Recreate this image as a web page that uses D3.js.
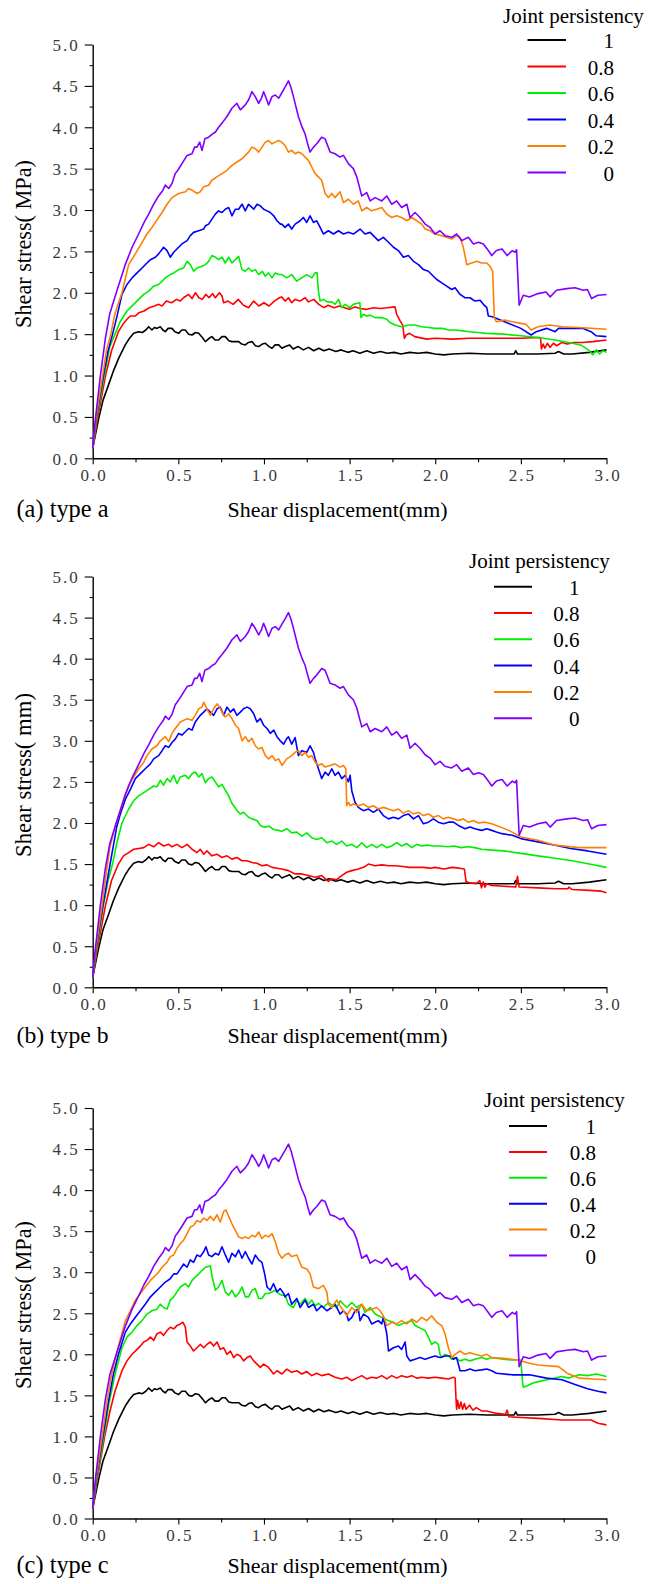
<!DOCTYPE html>
<html>
<head>
<meta charset="utf-8">
<script src="https://cdn.jsdelivr.net/npm/d3@7"></script>
<style>
  html, body { margin: 0; padding: 0; background: #fff; }
  svg { display: block; }
  svg text { font-family: "Liberation Serif", "Times New Roman", Times, "DejaVu Serif", serif !important; }
</style>
</head>
<body>
<svg id="chart" width="649" height="1584" font-family="Liberation Serif, Times New Roman, serif"></svg>
<script>
// Legend categories (joint persistency) and their line colours
const persistency = ["1", "0.8", "0.6", "0.4", "0.2", "0"];
const lineColors = ["#000000", "#ff0000", "#00ee00", "#0000ff", "#ff8000", "#8000ff"];

// Axis ticks
const xTickValues = [0, 0.5, 1.0, 1.5, 2.0, 2.5, 3.0];
const yTickValues = [0, 0.5, 1.0, 1.5, 2.0, 2.5, 3.0, 3.5, 4.0, 4.5, 5.0];
const xMinorValues = [0.25, 0.75, 1.25, 1.75, 2.25, 2.75];
const yMinorValues = [0.25, 0.75, 1.25, 1.75, 2.25, 2.75, 3.25, 3.75, 4.25, 4.75];

// Shear stress (MPa) vs shear displacement (mm): [displacement, stress]
// Persistency 1 and 0 are common to all three joint types
const stressP1 = [[0,0.12],[0.035,0.48],[0.06,0.7],[0.093,0.89],[0.12,1.05],[0.152,1.21],[0.19,1.37],[0.215,1.45],[0.239,1.51],[0.268,1.53],[0.29,1.52],[0.31,1.55],[0.327,1.59],[0.346,1.55],[0.36,1.58],[0.375,1.57],[0.395,1.59],[0.41,1.55],[0.424,1.53],[0.44,1.57],[0.463,1.57],[0.48,1.53],[0.502,1.51],[0.52,1.55],[0.541,1.55],[0.56,1.5],[0.58,1.49],[0.6,1.52],[0.619,1.51],[0.64,1.46],[0.658,1.41],[0.68,1.45],[0.696,1.47],[0.715,1.43],[0.735,1.43],[0.755,1.47],[0.774,1.47],[0.795,1.42],[0.813,1.41],[0.835,1.41],[0.852,1.41],[0.87,1.38],[0.891,1.37],[0.91,1.4],[0.93,1.41],[0.95,1.36],[0.969,1.35],[0.99,1.38],[1.008,1.39],[1.03,1.35],[1.047,1.33],[1.065,1.37],[1.086,1.37],[1.105,1.33],[1.125,1.35],[1.15,1.37],[1.17,1.32],[1.2,1.35],[1.23,1.31],[1.26,1.34],[1.29,1.3],[1.32,1.33],[1.35,1.3],[1.38,1.32],[1.42,1.29],[1.45,1.31],[1.49,1.28],[1.52,1.3],[1.56,1.27],[1.6,1.3],[1.64,1.27],[1.68,1.29],[1.72,1.27],[1.76,1.28],[1.8,1.26],[1.85,1.28],[1.9,1.27],[1.95,1.28],[2.0,1.26],[2.05,1.25],[2.1,1.26],[2.2,1.27],[2.3,1.26],[2.4,1.26],[2.46,1.26],[2.47,1.3],[2.48,1.26],[2.6,1.26],[2.7,1.27],[2.72,1.29],[2.75,1.26],[2.8,1.26],[2.9,1.28],[3.0,1.31]];

const stressP0 = [[0,0.12],[0.016,0.48],[0.045,1.0],[0.074,1.45],[0.1,1.75],[0.145,2.05],[0.19,2.34],[0.23,2.55],[0.268,2.71],[0.3,2.85],[0.327,2.95],[0.356,3.07],[0.385,3.17],[0.41,3.24],[0.424,3.3],[0.444,3.26],[0.463,3.32],[0.482,3.44],[0.5,3.49],[0.521,3.56],[0.551,3.66],[0.58,3.68],[0.595,3.76],[0.609,3.76],[0.625,3.82],[0.638,3.72],[0.655,3.86],[0.677,3.88],[0.7,3.92],[0.716,3.94],[0.735,4.0],[0.755,4.05],[0.784,4.13],[0.813,4.23],[0.842,4.29],[0.862,4.21],[0.891,4.27],[0.91,4.33],[0.93,4.43],[0.949,4.37],[0.969,4.29],[0.985,4.35],[0.998,4.43],[1.013,4.35],[1.027,4.27],[1.047,4.37],[1.066,4.39],[1.086,4.35],[1.105,4.42],[1.125,4.49],[1.143,4.56],[1.158,4.48],[1.172,4.37],[1.201,4.13],[1.221,4.01],[1.24,3.92],[1.255,3.8],[1.269,3.7],[1.289,3.76],[1.308,3.8],[1.337,3.88],[1.357,3.86],[1.386,3.7],[1.415,3.68],[1.444,3.64],[1.464,3.66],[1.493,3.56],[1.522,3.5],[1.542,3.4],[1.571,3.17],[1.6,3.21],[1.62,3.11],[1.649,3.15],[1.688,3.11],[1.717,3.17],[1.746,3.07],[1.775,3.11],[1.804,3.03],[1.834,3.07],[1.853,2.91],[1.882,2.97],[1.911,2.91],[1.941,2.83],[1.97,2.79],[1.999,2.71],[2.028,2.75],[2.057,2.69],[2.096,2.67],[2.125,2.71],[2.155,2.63],[2.193,2.67],[2.223,2.59],[2.252,2.61],[2.281,2.59],[2.31,2.51],[2.33,2.45],[2.357,2.51],[2.39,2.53],[2.42,2.45],[2.45,2.51],[2.466,2.49],[2.475,2.52],[2.49,1.85],[2.5,1.9],[2.514,1.97],[2.55,1.95],[2.6,1.99],[2.647,2.01],[2.671,1.95],[2.708,2.03],[2.768,2.05],[2.816,2.06],[2.865,2.03],[2.889,2.04],[2.913,1.93],[2.949,1.97],[3.0,1.98]];

// Type a
const typeA08 = [[0,0.12],[0.03,0.5],[0.075,1.0],[0.11,1.3],[0.15,1.53],[0.18,1.63],[0.2,1.68],[0.22,1.72],[0.25,1.72],[0.27,1.76],[0.3,1.78],[0.33,1.82],[0.36,1.84],[0.385,1.86],[0.405,1.84],[0.43,1.9],[0.46,1.88],[0.49,1.92],[0.51,1.9],[0.53,1.94],[0.56,1.98],[0.58,1.93],[0.6,2.0],[0.62,1.94],[0.64,1.92],[0.66,1.98],[0.68,1.94],[0.7,1.99],[0.716,1.94],[0.74,2.0],[0.755,1.96],[0.765,1.88],[0.79,1.9],[0.82,1.86],[0.85,1.92],[0.88,1.85],[0.91,1.82],[0.94,1.9],[0.97,1.84],[1.0,1.88],[1.03,1.84],[1.06,1.9],[1.09,1.94],[1.104,1.95],[1.123,1.9],[1.143,1.94],[1.162,1.88],[1.182,1.92],[1.21,1.9],[1.24,1.94],[1.26,1.89],[1.29,1.92],[1.32,1.86],[1.35,1.82],[1.375,1.85],[1.41,1.82],[1.44,1.84],[1.47,1.82],[1.5,1.8],[1.53,1.83],[1.56,1.81],[1.6,1.8],[1.64,1.82],[1.68,1.81],[1.72,1.82],[1.765,1.83],[1.775,1.74],[1.795,1.66],[1.81,1.61],[1.82,1.45],[1.83,1.49],[1.85,1.51],[1.88,1.47],[1.95,1.44],[2.0,1.45],[2.1,1.44],[2.2,1.45],[2.3,1.45],[2.4,1.45],[2.5,1.45],[2.6,1.46],[2.615,1.45],[2.62,1.32],[2.63,1.38],[2.64,1.33],[2.655,1.39],[2.67,1.34],[2.69,1.39],[2.71,1.36],[2.74,1.4],[2.77,1.38],[2.81,1.4],[2.86,1.4],[2.92,1.41],[3.0,1.43]];

const typeA06 = [[0,0.12],[0.025,0.5],[0.068,1.0],[0.1,1.35],[0.13,1.5],[0.16,1.65],[0.2,1.78],[0.239,1.86],[0.268,1.92],[0.298,1.98],[0.327,2.02],[0.356,2.08],[0.385,2.1],[0.405,2.14],[0.424,2.18],[0.453,2.22],[0.473,2.24],[0.502,2.28],[0.531,2.3],[0.551,2.38],[0.57,2.34],[0.59,2.26],[0.609,2.3],[0.638,2.32],[0.658,2.34],[0.677,2.38],[0.696,2.45],[0.716,2.43],[0.735,2.4],[0.755,2.43],[0.774,2.36],[0.794,2.43],[0.813,2.36],[0.833,2.4],[0.852,2.44],[0.872,2.28],[0.891,2.26],[0.91,2.3],[0.93,2.26],[0.95,2.28],[0.969,2.22],[0.99,2.26],[1.008,2.2],[1.027,2.24],[1.047,2.18],[1.066,2.24],[1.086,2.22],[1.104,2.22],[1.133,2.18],[1.162,2.22],[1.191,2.14],[1.22,2.18],[1.25,2.22],[1.28,2.18],[1.298,2.24],[1.31,2.24],[1.318,2.02],[1.328,1.9],[1.347,1.92],[1.37,1.89],[1.396,1.89],[1.415,1.86],[1.435,1.92],[1.454,1.82],[1.474,1.86],[1.5,1.82],[1.522,1.86],[1.54,1.87],[1.56,1.88],[1.567,1.7],[1.58,1.74],[1.6,1.72],[1.62,1.73],[1.649,1.7],[1.688,1.7],[1.717,1.68],[1.736,1.64],[1.765,1.61],[1.804,1.59],[1.843,1.61],[1.882,1.61],[1.92,1.59],[1.96,1.58],[2.0,1.57],[2.04,1.57],[2.08,1.55],[2.12,1.55],[2.16,1.54],[2.2,1.53],[2.25,1.52],[2.3,1.51],[2.4,1.5],[2.5,1.48],[2.6,1.46],[2.7,1.43],[2.8,1.39],[2.85,1.37],[2.9,1.3],[2.92,1.25],[2.94,1.31],[2.96,1.26],[2.98,1.3],[3.0,1.28]];

const typeA04 = [[0,0.12],[0.022,0.5],[0.063,1.0],[0.09,1.3],[0.116,1.5],[0.14,1.7],[0.171,1.98],[0.2,2.1],[0.23,2.18],[0.259,2.24],[0.288,2.3],[0.317,2.36],[0.337,2.4],[0.366,2.43],[0.385,2.47],[0.414,2.55],[0.434,2.51],[0.453,2.43],[0.473,2.49],[0.502,2.55],[0.521,2.59],[0.551,2.63],[0.57,2.69],[0.589,2.73],[0.619,2.75],[0.648,2.77],[0.658,2.81],[0.677,2.83],[0.696,2.89],[0.716,2.95],[0.735,2.99],[0.755,2.97],[0.774,3.01],[0.794,3.03],[0.813,2.93],[0.833,3.01],[0.852,3.01],[0.872,3.07],[0.891,2.99],[0.91,3.07],[0.94,3.01],[0.96,3.07],[0.979,3.05],[0.998,3.01],[1.018,2.99],[1.037,2.97],[1.057,2.93],[1.076,2.87],[1.096,2.83],[1.104,2.83],[1.123,2.79],[1.143,2.83],[1.162,2.77],[1.182,2.83],[1.211,2.87],[1.23,2.91],[1.25,2.85],[1.269,2.93],[1.289,2.85],[1.308,2.87],[1.328,2.79],[1.347,2.71],[1.376,2.75],[1.406,2.71],[1.435,2.75],[1.464,2.71],[1.493,2.73],[1.522,2.71],[1.561,2.77],[1.59,2.71],[1.62,2.73],[1.649,2.67],[1.668,2.63],[1.697,2.67],[1.727,2.61],[1.756,2.55],[1.785,2.51],[1.814,2.43],[1.843,2.45],[1.873,2.38],[1.902,2.34],[1.931,2.28],[1.96,2.26],[1.989,2.2],[2.009,2.16],[2.038,2.12],[2.067,2.08],[2.096,2.04],[2.116,2.06],[2.145,1.98],[2.174,1.94],[2.203,1.94],[2.232,1.9],[2.262,1.91],[2.281,1.86],[2.301,1.82],[2.31,1.72],[2.333,1.71],[2.38,1.67],[2.43,1.63],[2.5,1.57],[2.56,1.49],[2.59,1.53],[2.65,1.57],[2.7,1.53],[2.72,1.57],[2.79,1.57],[2.86,1.57],[2.91,1.53],[2.94,1.48],[3.0,1.47]];

const typeA02 = [[0,0.12],[0.02,0.5],[0.058,1.0],[0.08,1.3],[0.106,1.5],[0.13,1.75],[0.171,2.0],[0.21,2.34],[0.249,2.47],[0.288,2.61],[0.317,2.71],[0.346,2.79],[0.385,2.91],[0.405,2.97],[0.434,3.07],[0.463,3.15],[0.502,3.2],[0.541,3.22],[0.56,3.26],[0.58,3.24],[0.609,3.2],[0.628,3.22],[0.648,3.28],[0.677,3.3],[0.696,3.36],[0.725,3.4],[0.755,3.44],[0.784,3.48],[0.813,3.54],[0.842,3.58],[0.872,3.62],[0.891,3.66],[0.91,3.7],[0.93,3.76],[0.95,3.74],[0.969,3.7],[0.988,3.76],[1.008,3.82],[1.027,3.84],[1.047,3.8],[1.066,3.82],[1.086,3.84],[1.104,3.82],[1.123,3.78],[1.143,3.7],[1.162,3.72],[1.182,3.68],[1.201,3.7],[1.221,3.68],[1.24,3.64],[1.26,3.6],[1.279,3.52],[1.299,3.44],[1.318,3.4],[1.337,3.36],[1.357,3.2],[1.376,3.15],[1.396,3.2],[1.415,3.15],[1.444,3.22],[1.464,3.09],[1.493,3.13],[1.522,3.07],[1.551,3.11],[1.571,2.99],[1.6,3.03],[1.629,2.99],[1.658,3.01],[1.688,3.03],[1.717,2.95],[1.746,2.91],[1.775,2.93],[1.804,2.91],[1.834,2.87],[1.863,2.91],[1.892,2.87],[1.921,2.83],[1.941,2.77],[1.97,2.75],[1.999,2.71],[2.038,2.69],[2.067,2.67],[2.096,2.65],[2.125,2.69],[2.145,2.67],[2.164,2.55],[2.184,2.34],[2.213,2.36],[2.242,2.38],[2.271,2.36],[2.3,2.36],[2.32,2.32],[2.335,2.26],[2.345,1.7],[2.357,1.65],[2.406,1.67],[2.45,1.65],[2.5,1.63],[2.53,1.62],[2.56,1.55],[2.6,1.59],[2.67,1.61],[2.74,1.59],[2.84,1.58],[3.0,1.56]];

// Type b
const typeB08 = [[0,0.12],[0.03,0.5],[0.075,1.0],[0.11,1.3],[0.15,1.5],[0.18,1.6],[0.21,1.64],[0.239,1.68],[0.268,1.69],[0.298,1.7],[0.327,1.74],[0.356,1.71],[0.385,1.76],[0.414,1.72],[0.444,1.74],[0.463,1.71],[0.492,1.74],[0.521,1.7],[0.551,1.74],[0.58,1.68],[0.609,1.64],[0.628,1.68],[0.648,1.62],[0.667,1.66],[0.696,1.6],[0.725,1.62],[0.755,1.58],[0.784,1.6],[0.813,1.56],[0.842,1.58],[0.872,1.54],[0.901,1.54],[0.93,1.52],[0.959,1.51],[0.988,1.48],[1.018,1.49],[1.047,1.46],[1.076,1.45],[1.104,1.44],[1.143,1.42],[1.182,1.38],[1.221,1.38],[1.26,1.36],[1.299,1.34],[1.337,1.36],[1.376,1.29],[1.396,1.32],[1.425,1.31],[1.454,1.36],[1.483,1.4],[1.513,1.42],[1.551,1.44],[1.581,1.46],[1.61,1.5],[1.649,1.48],[1.688,1.49],[1.73,1.48],[1.77,1.48],[1.81,1.47],[1.85,1.46],[1.89,1.46],[1.93,1.46],[1.97,1.45],[2.0,1.46],[2.05,1.44],[2.1,1.46],[2.14,1.45],[2.17,1.44],[2.18,1.29],[2.2,1.27],[2.24,1.26],[2.26,1.3],[2.27,1.21],[2.28,1.28],[2.29,1.22],[2.3,1.26],[2.33,1.24],[2.4,1.23],[2.47,1.22],[2.48,1.35],[2.49,1.22],[2.6,1.21],[2.7,1.2],[2.775,1.2],[2.78,1.22],[2.8,1.19],[2.9,1.18],[2.97,1.17],[3.0,1.15]];

const typeB06 = [[0,0.12],[0.025,0.5],[0.063,1.0],[0.09,1.3],[0.116,1.5],[0.14,1.75],[0.171,2.0],[0.21,2.17],[0.239,2.27],[0.268,2.33],[0.298,2.37],[0.327,2.41],[0.356,2.45],[0.375,2.44],[0.395,2.52],[0.414,2.46],[0.434,2.54],[0.453,2.5],[0.473,2.58],[0.492,2.48],[0.512,2.56],[0.541,2.58],[0.56,2.54],[0.58,2.6],[0.599,2.62],[0.619,2.56],[0.638,2.6],[0.658,2.49],[0.677,2.54],[0.696,2.56],[0.716,2.5],[0.735,2.44],[0.755,2.47],[0.774,2.4],[0.794,2.33],[0.81,2.25],[0.823,2.21],[0.843,2.15],[0.862,2.11],[0.881,2.13],[0.91,2.07],[0.93,2.05],[0.959,2.03],[0.979,1.97],[1.0,1.95],[1.03,1.96],[1.057,1.92],[1.086,1.91],[1.104,1.9],[1.133,1.93],[1.162,1.88],[1.191,1.89],[1.221,1.84],[1.25,1.88],[1.279,1.82],[1.308,1.8],[1.337,1.82],[1.367,1.76],[1.396,1.78],[1.425,1.74],[1.454,1.78],[1.483,1.72],[1.513,1.74],[1.542,1.7],[1.571,1.76],[1.6,1.7],[1.629,1.74],[1.658,1.7],[1.688,1.74],[1.717,1.7],[1.746,1.72],[1.775,1.76],[1.804,1.72],[1.834,1.75],[1.863,1.7],[1.892,1.74],[1.921,1.72],[1.95,1.73],[1.99,1.72],[2.03,1.72],[2.07,1.71],[2.11,1.72],[2.15,1.7],[2.19,1.71],[2.23,1.7],[2.27,1.68],[2.33,1.67],[2.4,1.66],[2.5,1.63],[2.6,1.6],[2.7,1.57],[2.8,1.54],[2.9,1.5],[3.0,1.46]];

const typeB04 = [[0,0.12],[0.022,0.5],[0.06,1.0],[0.085,1.3],[0.11,1.6],[0.14,1.95],[0.16,2.1],[0.191,2.29],[0.22,2.41],[0.249,2.54],[0.278,2.6],[0.307,2.66],[0.337,2.72],[0.356,2.78],[0.385,2.82],[0.405,2.88],[0.424,2.94],[0.444,2.92],[0.463,2.98],[0.482,3.02],[0.502,3.09],[0.521,3.07],[0.541,3.11],[0.56,3.15],[0.58,3.13],[0.599,3.23],[0.628,3.31],[0.648,3.35],[0.667,3.39],[0.687,3.35],[0.706,3.31],[0.726,3.39],[0.745,3.41],[0.765,3.31],[0.784,3.41],[0.804,3.35],[0.823,3.39],[0.842,3.31],[0.862,3.35],[0.881,3.39],[0.901,3.41],[0.92,3.39],[0.94,3.33],[0.959,3.23],[0.979,3.27],[0.998,3.19],[1.018,3.15],[1.037,3.09],[1.057,3.13],[1.076,3.05],[1.095,3.0],[1.115,2.96],[1.134,3.03],[1.143,3.05],[1.162,2.96],[1.182,3.04],[1.201,2.82],[1.221,2.88],[1.25,2.86],[1.269,2.94],[1.289,2.86],[1.299,2.78],[1.318,2.66],[1.337,2.54],[1.357,2.62],[1.376,2.58],[1.396,2.66],[1.415,2.58],[1.435,2.62],[1.454,2.54],[1.474,2.58],[1.493,2.5],[1.503,2.58],[1.513,2.39],[1.532,2.25],[1.551,2.19],[1.581,2.15],[1.61,2.17],[1.639,2.13],[1.668,2.17],[1.697,2.09],[1.727,2.05],[1.756,2.07],[1.785,2.05],[1.814,2.09],[1.843,2.11],[1.873,2.05],[1.902,2.09],[1.931,1.99],[1.96,2.01],[1.989,2.05],[2.018,2.01],[2.048,1.99],[2.077,2.01],[2.106,2.01],[2.135,1.97],[2.174,1.93],[2.203,1.95],[2.232,1.93],[2.271,1.91],[2.301,1.93],[2.33,1.91],[2.357,1.89],[2.39,1.87],[2.45,1.85],[2.5,1.81],[2.6,1.77],[2.7,1.73],[2.79,1.69],[2.89,1.66],[3.0,1.62]];

const typeB02 = [[0,0.12],[0.02,0.5],[0.055,1.0],[0.08,1.4],[0.1,1.7],[0.13,1.95],[0.16,2.15],[0.19,2.35],[0.21,2.46],[0.239,2.56],[0.268,2.66],[0.298,2.74],[0.317,2.82],[0.346,2.9],[0.375,2.94],[0.395,3.0],[0.424,3.05],[0.444,2.99],[0.463,3.09],[0.482,3.15],[0.512,3.23],[0.551,3.27],[0.58,3.25],[0.599,3.31],[0.619,3.39],[0.638,3.41],[0.648,3.47],[0.667,3.39],[0.687,3.31],[0.706,3.39],[0.726,3.45],[0.735,3.43],[0.755,3.35],[0.774,3.29],[0.794,3.33],[0.813,3.27],[0.833,3.19],[0.852,3.15],[0.872,3.0],[0.891,3.05],[0.91,2.99],[0.93,3.03],[0.949,2.94],[0.969,2.9],[0.988,2.92],[1.008,2.82],[1.027,2.78],[1.047,2.82],[1.066,2.76],[1.086,2.78],[1.105,2.7],[1.133,2.78],[1.162,2.82],[1.182,2.86],[1.201,2.88],[1.221,2.82],[1.24,2.86],[1.26,2.8],[1.279,2.82],[1.299,2.74],[1.318,2.7],[1.337,2.72],[1.357,2.68],[1.386,2.7],[1.415,2.72],[1.444,2.68],[1.464,2.7],[1.478,2.66],[1.483,2.21],[1.493,2.25],[1.503,2.21],[1.522,2.23],[1.551,2.21],[1.581,2.23],[1.61,2.19],[1.639,2.21],[1.668,2.17],[1.697,2.19],[1.727,2.17],[1.756,2.15],[1.785,2.17],[1.814,2.12],[1.843,2.15],[1.873,2.11],[1.902,2.13],[1.931,2.09],[1.96,2.11],[1.989,2.07],[2.018,2.09],[2.048,2.05],[2.077,2.07],[2.106,2.05],[2.135,2.03],[2.164,2.05],[2.193,2.01],[2.223,2.03],[2.252,2.0],[2.291,2.01],[2.33,1.99],[2.43,1.91],[2.5,1.83],[2.6,1.79],[2.7,1.73],[2.84,1.7],[3.0,1.7]];

// Type c
const typeC08 = [[0,0.12],[0.028,0.5],[0.07,1.0],[0.1,1.3],[0.13,1.55],[0.171,1.8],[0.2,1.92],[0.23,2.0],[0.259,2.06],[0.278,2.1],[0.298,2.15],[0.317,2.17],[0.337,2.21],[0.356,2.17],[0.375,2.25],[0.395,2.27],[0.414,2.23],[0.434,2.29],[0.453,2.33],[0.473,2.31],[0.492,2.35],[0.512,2.37],[0.527,2.39],[0.541,2.33],[0.551,2.15],[0.57,2.1],[0.589,2.04],[0.609,2.08],[0.628,2.12],[0.648,2.08],[0.667,2.12],[0.687,2.15],[0.706,2.1],[0.726,2.15],[0.745,2.06],[0.765,2.08],[0.784,2.0],[0.804,2.04],[0.823,1.96],[0.842,2.0],[0.862,1.98],[0.881,1.92],[0.901,1.96],[0.92,1.98],[0.94,1.92],[0.959,1.88],[0.979,1.84],[0.998,1.88],[1.027,1.84],[1.056,1.76],[1.076,1.8],[1.105,1.76],[1.133,1.82],[1.162,1.78],[1.192,1.8],[1.221,1.76],[1.25,1.79],[1.279,1.74],[1.308,1.77],[1.337,1.74],[1.376,1.76],[1.415,1.72],[1.454,1.7],[1.483,1.72],[1.513,1.68],[1.542,1.71],[1.571,1.74],[1.6,1.7],[1.629,1.72],[1.658,1.71],[1.688,1.74],[1.717,1.7],[1.746,1.74],[1.775,1.71],[1.804,1.74],[1.834,1.72],[1.863,1.74],[1.892,1.71],[1.921,1.72],[1.96,1.71],[1.999,1.72],[2.038,1.71],[2.077,1.7],[2.106,1.72],[2.116,1.71],[2.121,1.47],[2.125,1.33],[2.13,1.44],[2.14,1.34],[2.15,1.42],[2.16,1.33],[2.17,1.4],[2.18,1.33],[2.2,1.38],[2.22,1.32],[2.24,1.35],[2.27,1.31],[2.3,1.31],[2.36,1.28],[2.41,1.27],[2.42,1.32],[2.43,1.24],[2.5,1.23],[2.6,1.22],[2.74,1.2],[2.85,1.2],[2.91,1.2],[2.95,1.16],[3.0,1.14]];

const typeC06 = [[0,0.12],[0.025,0.5],[0.065,1.0],[0.095,1.4],[0.13,1.75],[0.171,2.08],[0.2,2.21],[0.23,2.27],[0.259,2.35],[0.288,2.41],[0.317,2.49],[0.346,2.53],[0.375,2.55],[0.395,2.61],[0.414,2.57],[0.434,2.55],[0.453,2.66],[0.473,2.7],[0.492,2.76],[0.512,2.82],[0.541,2.86],[0.56,2.82],[0.58,2.9],[0.599,2.94],[0.619,2.98],[0.638,3.02],[0.658,3.06],[0.677,3.07],[0.687,3.08],[0.696,2.96],[0.716,2.78],[0.735,2.82],[0.755,2.9],[0.774,2.76],[0.794,2.72],[0.813,2.78],[0.833,2.7],[0.852,2.74],[0.872,2.82],[0.891,2.7],[0.91,2.7],[0.93,2.78],[0.949,2.8],[0.969,2.68],[0.988,2.68],[1.008,2.74],[1.027,2.74],[1.047,2.76],[1.066,2.78],[1.086,2.74],[1.105,2.72],[1.123,2.72],[1.143,2.61],[1.172,2.57],[1.192,2.66],[1.211,2.61],[1.24,2.68],[1.26,2.61],[1.279,2.66],[1.299,2.59],[1.318,2.62],[1.347,2.57],[1.376,2.63],[1.406,2.59],[1.425,2.57],[1.444,2.65],[1.464,2.61],[1.483,2.57],[1.513,2.63],[1.542,2.57],[1.571,2.61],[1.59,2.51],[1.62,2.57],[1.649,2.49],[1.668,2.47],[1.688,2.45],[1.707,2.43],[1.727,2.41],[1.756,2.39],[1.785,2.35],[1.804,2.37],[1.834,2.39],[1.863,2.41],[1.882,2.35],[1.902,2.33],[1.921,2.31],[1.941,2.29],[1.96,2.21],[1.979,2.12],[1.999,2.15],[2.018,2.12],[2.028,2.0],[2.038,1.96],[2.057,2.0],[2.077,1.98],[2.096,1.94],[2.116,1.96],[2.145,1.92],[2.174,1.94],[2.203,1.92],[2.232,1.94],[2.271,1.96],[2.301,1.94],[2.33,1.96],[2.4,1.94],[2.45,1.93],[2.5,1.93],[2.51,1.65],[2.515,1.6],[2.54,1.62],[2.57,1.65],[2.61,1.67],[2.65,1.69],[2.7,1.71],[2.74,1.73],[2.78,1.71],[2.84,1.75],[2.89,1.74],[2.94,1.76],[3.0,1.73]];

const typeC04 = [[0,0.12],[0.022,0.5],[0.06,1.0],[0.09,1.4],[0.12,1.75],[0.15,2.0],[0.191,2.27],[0.22,2.37],[0.249,2.45],[0.278,2.53],[0.307,2.61],[0.337,2.7],[0.366,2.76],[0.395,2.82],[0.424,2.88],[0.453,2.92],[0.473,2.98],[0.492,2.98],[0.512,3.04],[0.531,3.1],[0.551,3.06],[0.57,3.15],[0.589,3.12],[0.609,3.21],[0.628,3.19],[0.648,3.25],[0.661,3.31],[0.677,3.21],[0.696,3.19],[0.716,3.23],[0.735,3.21],[0.755,3.31],[0.774,3.21],[0.794,3.12],[0.813,3.23],[0.833,3.19],[0.852,3.27],[0.872,3.17],[0.891,3.25],[0.91,3.17],[0.93,3.1],[0.949,3.21],[0.969,3.15],[0.988,3.12],[1.004,2.98],[1.018,2.82],[1.037,2.78],[1.056,2.86],[1.076,2.76],[1.095,2.8],[1.115,2.74],[1.123,2.7],[1.143,2.74],[1.162,2.61],[1.192,2.68],[1.211,2.57],[1.24,2.66],[1.26,2.57],[1.289,2.61],[1.308,2.53],[1.337,2.59],[1.367,2.53],[1.396,2.57],[1.415,2.61],[1.435,2.53],[1.444,2.49],[1.464,2.53],[1.483,2.49],[1.493,2.41],[1.513,2.45],[1.532,2.53],[1.551,2.55],[1.561,2.41],[1.581,2.49],[1.61,2.45],[1.629,2.37],[1.649,2.39],[1.668,2.41],[1.688,2.37],[1.697,2.45],[1.717,2.25],[1.727,2.04],[1.756,2.08],[1.785,2.1],[1.804,2.06],[1.824,2.15],[1.834,1.98],[1.853,1.92],[1.882,1.94],[1.911,1.96],[1.941,1.94],[1.97,1.96],[1.999,1.98],[2.028,1.96],[2.057,1.98],[2.086,1.98],[2.106,1.94],[2.125,1.96],[2.145,1.8],[2.174,1.8],[2.203,1.82],[2.232,1.8],[2.271,1.81],[2.301,1.82],[2.33,1.8],[2.357,1.77],[2.45,1.75],[2.55,1.75],[2.65,1.71],[2.74,1.69],[2.82,1.63],[2.89,1.58],[2.95,1.55],[3.0,1.53]];

const typeC02 = [[0,0.12],[0.02,0.5],[0.055,1.0],[0.085,1.45],[0.11,1.75],[0.15,2.1],[0.191,2.41],[0.22,2.53],[0.249,2.66],[0.278,2.74],[0.307,2.82],[0.337,2.9],[0.366,2.96],[0.385,3.0],[0.405,3.06],[0.434,3.12],[0.453,3.19],[0.473,3.21],[0.492,3.29],[0.512,3.35],[0.531,3.39],[0.551,3.47],[0.57,3.55],[0.589,3.57],[0.609,3.63],[0.628,3.61],[0.648,3.66],[0.667,3.63],[0.687,3.68],[0.706,3.63],[0.726,3.7],[0.745,3.61],[0.765,3.74],[0.778,3.76],[0.794,3.68],[0.813,3.59],[0.833,3.51],[0.852,3.43],[0.872,3.41],[0.891,3.43],[0.91,3.41],[0.93,3.45],[0.949,3.43],[0.969,3.49],[0.988,3.41],[1.008,3.45],[1.027,3.43],[1.047,3.47],[1.066,3.37],[1.086,3.23],[1.105,3.17],[1.123,3.21],[1.143,3.23],[1.162,3.19],[1.192,3.21],[1.221,3.06],[1.25,3.04],[1.269,2.98],[1.289,2.82],[1.318,2.8],[1.347,2.84],[1.367,2.76],[1.376,2.61],[1.396,2.57],[1.425,2.66],[1.444,2.59],[1.464,2.53],[1.483,2.47],[1.513,2.57],[1.542,2.51],[1.571,2.61],[1.6,2.53],[1.629,2.55],[1.658,2.57],[1.678,2.53],[1.697,2.47],[1.717,2.35],[1.746,2.39],[1.775,2.37],[1.804,2.41],[1.834,2.37],[1.863,2.43],[1.892,2.39],[1.921,2.45],[1.95,2.41],[1.979,2.47],[2.009,2.39],[2.038,2.35],[2.057,2.25],[2.077,2.08],[2.096,1.96],[2.116,2.0],[2.145,2.04],[2.174,2.0],[2.203,2.02],[2.232,2.0],[2.271,1.98],[2.301,2.0],[2.33,1.96],[2.4,1.95],[2.48,1.93],[2.55,1.89],[2.6,1.87],[2.72,1.85],[2.77,1.77],[2.84,1.71],[2.92,1.7],[3.0,1.69]];

// Panel layout
const serif = "Liberation Serif, Times New Roman, serif";
const plotLeft = 92.7, plotRight = 606.5;
const panels = [
  { caption: "(a) type a", yTitle: "Shear stress( MPa)", top: 44.5, bottom: 458.3, yTitleMid: 244, yTitleLen: 168, textBase: 516.5,
    series: [stressP1, typeA08, typeA06, typeA04, typeA02, stressP0],
    legend: { titleX: 503, titleY: 22.7, x1: 527.5, x2: 566, y0: 40, dy: 26.5, labelRight: 614 } },
  { caption: "(b) type b", yTitle: "Shear stress( mm)", top: 576.5, bottom: 987.3, yTitleMid: 775, yTitleLen: 164, textBase: 1043,
    series: [stressP1, typeB08, typeB06, typeB04, typeB02, stressP0],
    legend: { titleX: 469, titleY: 568.3, x1: 494, x2: 532, y0: 586.7, dy: 26.3, labelRight: 579.5 } },
  { caption: "(c) type c", yTitle: "Shear stress( MPa)", top: 1108, bottom: 1518.5, yTitleMid: 1305, yTitleLen: 168, textBase: 1573,
    series: [stressP1, typeC08, typeC06, typeC04, typeC02, stressP0],
    legend: { titleX: 484, titleY: 1106.7, x1: 509, x2: 547, y0: 1126, dy: 25.9, labelRight: 596 } }
];

const svg = d3.select("#chart");
const fmt = d3.format(".1f");

// scale a text's font size so that it spans the given width
function fitWidth(sel, width) {
  const w = sel.node().getComputedTextLength();
  if (w > 0) sel.attr("font-size", +sel.attr("font-size") * width / w);
  return +sel.attr("font-size");
}

panels.forEach(p => {
  const x = d3.scaleLinear().domain([0, 3]).range([plotLeft, plotRight]);
  const y = d3.scaleLinear().domain([0, 5]).range([p.bottom, p.top]);
  const g = svg.append("g");

  // minor ticks
  g.append("g").attr("transform", `translate(0,${p.bottom})`)
    .call(d3.axisBottom(x).tickValues(xMinorValues).tickSize(4).tickFormat(""))
    .call(a => a.select(".domain").remove());
  g.append("g").attr("transform", `translate(${plotLeft},0)`)
    .call(d3.axisLeft(y).tickValues(yMinorValues).tickSize(3).tickFormat(""))
    .call(a => a.select(".domain").remove());

  // major axes
  const xAxis = g.append("g").attr("transform", `translate(0,${p.bottom})`)
    .call(d3.axisBottom(x).tickValues(xTickValues).tickSize(6).tickSizeOuter(0).tickFormat(fmt));
  const yAxis = g.append("g").attr("transform", `translate(${plotLeft},0)`)
    .call(d3.axisLeft(y).tickValues(yTickValues).tickSize(8).tickSizeOuter(0).tickFormat(fmt));

  g.selectAll("g").attr("font-family", serif);
  g.selectAll(".tick line").attr("stroke", "#000").attr("stroke-width", 1.1);
  [xAxis, yAxis].forEach(a => a.select(".domain").attr("stroke", "#000").attr("stroke-width", 1.4));

  xAxis.selectAll(".tick text")
    .attr("y", 17).attr("dy", "0.32em").attr("dx", 1)
    .attr("font-family", serif).attr("font-size", 17)
    .attr("letter-spacing", 2).attr("fill", "#3a3a3a");
  yAxis.selectAll(".tick text")
    .attr("x", -13).attr("dy", "0.34em")
    .attr("font-family", serif).attr("font-size", 17)
    .attr("letter-spacing", 2).attr("fill", "#3a3a3a");

  // curves
  const line = d3.line().x(d => x(d[0])).y(d => y(d[1]));
  p.series.forEach((s, i) => {
    g.append("path").datum(s)
      .attr("d", line)
      .attr("fill", "none")
      .attr("stroke", lineColors[i])
      .attr("stroke-width", 1.6)
      .attr("stroke-linejoin", "round");
  });

  // axis titles and caption
  const yt = g.append("text")
    .attr("transform", `translate(23,${p.yTitleMid}) rotate(-90)`)
    .attr("text-anchor", "middle").attr("dominant-baseline", "central")
    .attr("font-family", serif).attr("font-size", 22).attr("fill", "#000")
    .text(p.yTitle);
  fitWidth(yt, p.yTitleLen);
  const xt = g.append("text")
    .attr("x", 227.6).attr("y", p.textBase)
    .attr("font-family", serif).attr("font-size", 22).attr("fill", "#000")
    .text("Shear displacement(mm)");
  fitWidth(xt, 220);
  const cap = g.append("text")
    .attr("x", 16.5).attr("y", p.textBase)
    .attr("font-family", serif).attr("font-size", 24).attr("fill", "#000")
    .text(p.caption);
  fitWidth(cap, 92);

  // legend
  const L = p.legend;
  const lt = g.append("text").attr("x", L.titleX).attr("y", L.titleY)
    .attr("font-family", serif).attr("font-size", 21).attr("fill", "#000")
    .text("Joint persistency");
  const legendSize = fitWidth(lt, 141);
  persistency.forEach((name, i) => {
    const ly = L.y0 + i * L.dy;
    g.append("line").attr("x1", L.x1).attr("x2", L.x2).attr("y1", ly).attr("y2", ly)
      .attr("stroke", lineColors[i]).attr("stroke-width", 2);
    g.append("text").attr("x", L.labelRight).attr("y", ly + 1)
      .attr("text-anchor", "end").attr("dominant-baseline", "central")
      .attr("font-family", serif).attr("font-size", legendSize).attr("fill", "#000")
      .text(name);
  });
});
</script>
</body>
</html>
